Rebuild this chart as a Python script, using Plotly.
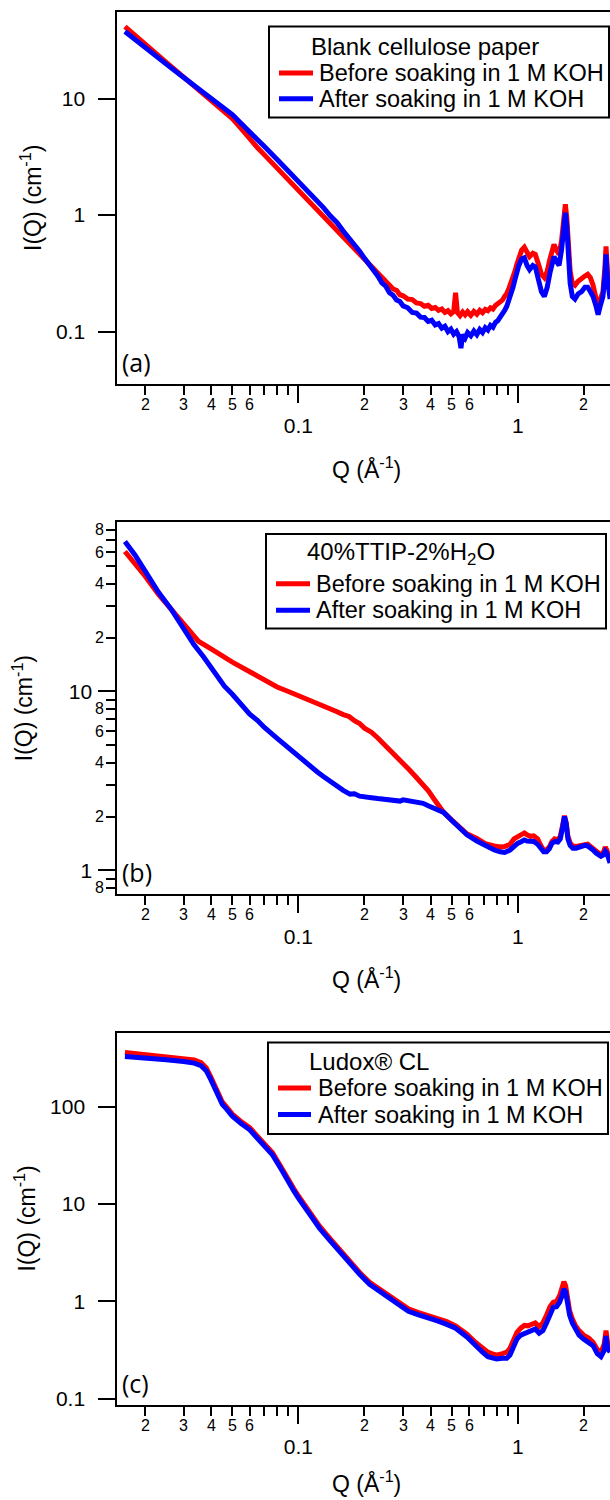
import math
import plotly.graph_objects as go

W, H = 610, 1500
FONT = "Liberation Sans, Arial, sans-serif"
LABEL_FONT = "Open Sans, sans-serif"
RED = "#ff0000"
BLUE = "#0000ff"

# ---------------- Panel (a): Blank cellulose paper ----------------
qa_before = [0.0162, 0.018, 0.02, 0.025, 0.03, 0.035, 0.04, 0.045, 0.05, 0.055, 0.06, 0.065, 0.07, 0.08,
             0.09, 0.1, 0.11, 0.12, 0.13, 0.14, 0.15, 0.16, 0.17, 0.18, 0.19,
             0.20, 0.21, 0.22, 0.23, 0.24, 0.25, 0.26, 0.27, 0.28, 0.29, 0.30, 0.315, 0.33, 0.345, 0.36,
             0.375, 0.39, 0.405, 0.42, 0.435, 0.45, 0.465, 0.48, 0.495, 0.51, 0.52, 0.53, 0.545, 0.56,
             0.575, 0.59, 0.61, 0.63, 0.65, 0.67, 0.69, 0.71, 0.73, 0.75, 0.77, 0.79, 0.81, 0.83, 0.85,
             0.87, 0.89, 0.91, 0.93, 0.95, 0.97, 0.99, 1.01, 1.04, 1.07, 1.1, 1.13, 1.17, 1.2, 1.24, 1.28,
             1.32, 1.36, 1.40, 1.43, 1.46, 1.5, 1.54, 1.58, 1.61, 1.645, 1.67, 1.7, 1.73, 1.77, 1.82, 1.88,
             1.95, 2.02, 2.08, 2.14, 2.2, 2.26, 2.32, 2.38, 2.44, 2.49, 2.52, 2.56, 2.6, 2.63]
ia_before = [41.6, 35.3, 29.4, 20.5, 15.3, 11.9, 9.8, 8.1, 6.74, 5.5, 4.46, 3.8, 3.29, 2.53,
             2.0, 1.63, 1.36, 1.14, 0.97, 0.84, 0.74, 0.645, 0.57, 0.51, 0.46,
             0.414, 0.38, 0.345, 0.318, 0.29, 0.268, 0.25, 0.232, 0.226, 0.207, 0.203, 0.19, 0.188, 0.176, 0.174,
             0.165, 0.168, 0.158, 0.161, 0.152, 0.156, 0.146, 0.151, 0.142, 0.149, 0.215, 0.146, 0.137, 0.147,
             0.139, 0.148, 0.138, 0.149, 0.141, 0.152, 0.145, 0.155, 0.151, 0.16, 0.156, 0.167, 0.172, 0.18, 0.186,
             0.2, 0.212, 0.235, 0.26, 0.29, 0.33, 0.38, 0.44, 0.5, 0.53, 0.48, 0.44, 0.47, 0.46, 0.38, 0.31,
             0.29, 0.33, 0.42, 0.5, 0.56, 0.5, 0.46, 0.6, 0.95, 1.24, 0.95, 0.5, 0.33, 0.26, 0.25, 0.27,
             0.29, 0.3, 0.31, 0.29, 0.25, 0.2, 0.16, 0.19, 0.22, 0.35, 0.54, 0.32, 0.25, 0.22]
qa_after = [0.0162, 0.018, 0.02, 0.025, 0.03, 0.035, 0.04, 0.045, 0.05, 0.055, 0.06, 0.065, 0.07, 0.08,
            0.09, 0.1, 0.11, 0.12, 0.13, 0.14, 0.15, 0.16, 0.17, 0.18, 0.19,
            0.20, 0.21, 0.22, 0.23, 0.24, 0.25, 0.26, 0.27, 0.28, 0.29, 0.30, 0.315, 0.33, 0.345, 0.36,
            0.375, 0.39, 0.405, 0.42, 0.435, 0.45, 0.465, 0.48, 0.495, 0.51, 0.525, 0.54, 0.55, 0.56,
            0.575, 0.59, 0.61, 0.63, 0.65, 0.67, 0.69, 0.71, 0.73, 0.75, 0.77, 0.79, 0.81, 0.83, 0.85,
            0.87, 0.89, 0.91, 0.93, 0.95, 0.97, 0.99, 1.01, 1.04, 1.07, 1.1, 1.13, 1.17, 1.2, 1.24, 1.28,
            1.32, 1.36, 1.40, 1.43, 1.46, 1.5, 1.54, 1.58, 1.61, 1.645, 1.67, 1.7, 1.73, 1.77, 1.82, 1.88,
            1.95, 2.02, 2.08, 2.14, 2.2, 2.26, 2.32, 2.38, 2.44, 2.49, 2.52, 2.56, 2.6, 2.63]
ia_after = [37.7, 32.0, 27.6, 19.8, 15.2, 12.2, 10.2, 8.6, 7.3, 6.1, 5.12, 4.45, 3.88, 3.0,
            2.39, 1.95, 1.64, 1.36, 1.16, 0.98, 0.86, 0.73, 0.64, 0.55, 0.49,
            0.425, 0.38, 0.332, 0.3, 0.262, 0.245, 0.215, 0.205, 0.187, 0.181, 0.166, 0.16, 0.146, 0.144, 0.133,
            0.132, 0.122, 0.125, 0.114, 0.117, 0.107, 0.111, 0.1, 0.105, 0.095, 0.1, 0.09, 0.072, 0.094,
            0.088, 0.098, 0.092, 0.101, 0.094, 0.104, 0.098, 0.108, 0.103, 0.113, 0.109, 0.12, 0.124, 0.133, 0.14,
            0.152, 0.165, 0.185, 0.21, 0.24, 0.28, 0.33, 0.37, 0.42, 0.43, 0.37, 0.34, 0.37, 0.36, 0.28, 0.22,
            0.2, 0.24, 0.32, 0.4, 0.44, 0.4, 0.37, 0.5, 0.8, 1.05, 0.8, 0.4, 0.26, 0.2, 0.19, 0.21,
            0.22, 0.24, 0.24, 0.22, 0.2, 0.17, 0.14, 0.17, 0.2, 0.3, 0.46, 0.28, 0.21, 0.19]

# ---------------- Panel (b): 40%TTIP-2%H2O ----------------
qb_before = [0.0162, 0.018, 0.02, 0.023, 0.0264, 0.03, 0.035, 0.04, 0.045, 0.05, 0.06, 0.07, 0.08, 0.09,
             0.1, 0.11, 0.12, 0.13, 0.14, 0.15, 0.16, 0.17, 0.18, 0.19, 0.2, 0.215, 0.23, 0.245, 0.26,
             0.28, 0.3, 0.32, 0.34, 0.36, 0.38, 0.39, 0.42, 0.44, 0.459, 0.5, 0.55, 0.586, 0.65, 0.71,
             0.78, 0.83, 0.87, 0.92, 0.96, 1.0, 1.04, 1.07, 1.1, 1.14, 1.18, 1.23, 1.27, 1.31, 1.35, 1.39,
             1.43, 1.47, 1.52, 1.56, 1.6, 1.63, 1.66, 1.69, 1.73, 1.78, 1.84, 1.9, 1.96, 2.02, 2.08, 2.14,
             2.2, 2.27, 2.33, 2.39, 2.45, 2.5, 2.54, 2.58, 2.63]
ib_before = [60.6, 52.0, 44.2, 35.0, 28.7, 23.8, 19.1, 17.3, 15.8, 14.6, 12.9, 11.6, 10.6, 10.0,
             9.5, 9.1, 8.63, 8.3, 7.96, 7.7, 7.43, 7.25, 6.86, 6.62, 6.24, 5.92, 5.5, 5.1, 4.75,
             4.35, 4.0, 3.65, 3.37, 3.11, 2.88, 2.79, 2.45, 2.25, 2.11, 1.91, 1.73, 1.6, 1.51, 1.41,
             1.37, 1.35, 1.36, 1.4, 1.5, 1.55, 1.6, 1.62, 1.58, 1.55, 1.56, 1.5, 1.38, 1.3, 1.3, 1.35,
             1.45, 1.5, 1.48, 1.55, 1.8, 2.02, 1.85, 1.55, 1.42, 1.37, 1.36, 1.37, 1.39, 1.41, 1.4, 1.36,
             1.32, 1.27, 1.24, 1.22, 1.26, 1.35, 1.3, 1.17, 1.12]
qb_after = [0.0162, 0.018, 0.02, 0.023, 0.0264, 0.03, 0.0334, 0.037, 0.04, 0.0429, 0.046, 0.05, 0.055,
            0.06, 0.065, 0.07, 0.08, 0.09, 0.1, 0.107, 0.115, 0.122, 0.13, 0.14, 0.1525, 0.16, 0.172,
            0.18, 0.19, 0.2, 0.215, 0.23, 0.245, 0.259, 0.275, 0.29, 0.3, 0.315, 0.33, 0.35, 0.37, 0.39,
            0.42, 0.44, 0.459, 0.5, 0.55, 0.586, 0.65, 0.71, 0.78, 0.83, 0.87, 0.92, 0.96, 1.0, 1.04,
            1.07, 1.1, 1.14, 1.18, 1.23, 1.27, 1.31, 1.35, 1.39, 1.43, 1.47, 1.52, 1.56, 1.6, 1.63, 1.66,
            1.69, 1.73, 1.78, 1.84, 1.9, 1.96, 2.02, 2.08, 2.14, 2.2, 2.27, 2.33, 2.39, 2.45, 2.5, 2.54,
            2.58, 2.63]
ib_after = [68.9, 58.0, 47.2, 36.0, 28.7, 22.5, 18.3, 15.6, 13.5, 11.9, 10.7, 9.65, 8.5,
            7.47, 6.9, 6.29, 5.47, 4.83, 4.33, 4.05, 3.76, 3.55, 3.35, 3.12, 2.91, 2.8, 2.67,
            2.68, 2.6, 2.59, 2.55, 2.52, 2.5, 2.45, 2.47, 2.44, 2.48, 2.45, 2.42, 2.4, 2.37, 2.3,
            2.22, 2.16, 2.11, 1.9, 1.72, 1.58, 1.46, 1.37, 1.3, 1.27, 1.26, 1.3, 1.37, 1.42, 1.45,
            1.48, 1.46, 1.45, 1.45, 1.4, 1.32, 1.27, 1.27, 1.32, 1.42, 1.45, 1.44, 1.5, 1.75, 2.0, 1.82,
            1.5, 1.38, 1.33, 1.33, 1.35, 1.37, 1.38, 1.37, 1.34, 1.3, 1.25, 1.22, 1.2, 1.22, 1.28, 1.25,
            1.14, 1.1]

# ---------------- Panel (c): Ludox CL ----------------
qc_before = [0.0162, 0.018, 0.02, 0.025, 0.03, 0.0335, 0.036, 0.038, 0.04, 0.0425, 0.045, 0.047, 0.05,
             0.055, 0.06, 0.065, 0.07, 0.0762, 0.083, 0.0895, 0.095, 0.1, 0.107, 0.115, 0.125, 0.14,
             0.155, 0.172, 0.19, 0.211, 0.235, 0.259, 0.285, 0.317, 0.35, 0.39, 0.43, 0.474, 0.52, 0.586,
             0.64, 0.69, 0.73, 0.76, 0.8, 0.85, 0.89, 0.92, 0.96, 0.99, 1.03, 1.07, 1.11, 1.15, 1.2, 1.25,
             1.3, 1.35, 1.4, 1.45, 1.5, 1.55, 1.59, 1.62, 1.65, 1.68, 1.72, 1.77, 1.83, 1.9, 1.99, 2.1,
             2.2, 2.3, 2.39, 2.47, 2.52, 2.56, 2.6, 2.63]
ic_before = [361, 352, 344, 326, 312, 303, 285, 252, 200, 148, 112, 100, 84,
             70, 61, 50, 42, 33.7, 24.5, 17.9, 14.5, 12.1, 9.6, 7.55, 5.9, 4.35,
             3.3, 2.51, 1.98, 1.57, 1.32, 1.14, 0.98, 0.84, 0.77, 0.72, 0.66, 0.62, 0.56, 0.46,
             0.38, 0.325, 0.3, 0.29, 0.28, 0.29, 0.3, 0.33, 0.4, 0.48, 0.53, 0.565, 0.56, 0.58, 0.6, 0.55,
             0.6, 0.72, 0.88, 0.98, 1.0, 1.15, 1.35, 1.59, 1.45, 1.0, 0.8, 0.66, 0.56, 0.5, 0.45, 0.42,
             0.38, 0.32, 0.3, 0.36, 0.5, 0.38, 0.34, 0.33]
qc_after = qc_before
ic_after = [329, 324, 320, 305, 292, 281, 265, 235, 188, 140, 106, 95, 80,
            67, 58, 47.5, 40, 32, 23.3, 17.0, 13.8, 11.5, 9.1, 7.2, 5.6, 4.15,
            3.15, 2.4, 1.9, 1.5, 1.26, 1.09, 0.94, 0.79, 0.73, 0.68, 0.63, 0.58, 0.53, 0.43,
            0.35, 0.3, 0.27, 0.26, 0.255, 0.26, 0.26, 0.28, 0.34, 0.41, 0.45, 0.47, 0.48, 0.5, 0.52, 0.47,
            0.5, 0.6, 0.74, 0.87, 0.88, 0.98, 1.15, 1.34, 1.25, 0.9, 0.72, 0.6, 0.51, 0.45, 0.41, 0.38,
            0.35, 0.29, 0.27, 0.31, 0.44, 0.33, 0.31, 0.3]

# ---------------- Text / ticks ----------------
legend_titles = ["Blank cellulose paper", "40%TTIP-2%H<sub>2</sub>O", "Ludox® CL"]
series_names = ["Before soaking in 1 M KOH", "After soaking in 1 M KOH"]
panel_tags = ["(a)", "(b)", "(c)"]
x_major = [0.1, 1]
x_major_text = ["0.1", "1"]
x_minor = [0.02, 0.03, 0.04, 0.05, 0.06, 0.07, 0.08, 0.09, 0.2, 0.3, 0.4, 0.5, 0.6, 0.7, 0.8, 0.9, 2]
x_minor_labeled = [0.02, 0.03, 0.04, 0.05, 0.06, 0.2, 0.3, 0.4, 0.5, 0.6, 2]
x_minor_text = ["2", "3", "4", "5", "6", "2", "3", "4", "5", "6", "2"]
y_major = [[0.1, 1, 10], [1, 10], [0.1, 1, 10, 100]]
y_major_text = [["0.1", "1", "10"], ["1", "10"], ["0.1", "1", "10", "100"]]
yb_minor = [0.8, 0.9, 2, 3, 4, 5, 6, 7, 8, 9, 20, 30, 40, 50, 60, 70, 80]
yb_minor_labeled = [0.8, 2, 4, 6, 8, 20, 40, 60, 80]
yb_minor_text = ["8", "2", "4", "6", "8", "2", "4", "6", "8"]

# ---------------- Layout geometry (pixels) ----------------
PLOT_LEFT = 117.3
panel_px = [(12.3, 385.0), (524.0, 897.3), (1036.0, 1409.3)]
y_ranges = [(-1.448, 1.742), (-0.1337, 1.946), (-1.0615, 2.763)]
x_range = (-1.8252, 0.4196)
# legend box: left, right, top, bottom; rows: title y, red y, blue y; title x, sample x0, x1, text x
legend_box = [(269, 609, 26.7, 118.0), (266, 606, 535.7, 630.7), (268, 608, 1046.0, 1137.7)]
legend_rows = [(46.7, 73.3, 99.0), (555.0, 585.7, 612.3), (1065.0, 1091.7, 1118.3)]
legend_cols = [(309, 279, 313, 317), (305, 276, 310, 314), (307, 278, 311, 316)]
ytitle_x = [31, 23, 25]
xtitle_y = [470, 981.7, 1486.7]
ylabel_standoff = [9, 2, 9]


def px(p):
    return p / W


def py(p):
    return 1 - p / H


data = [(qa_before, ia_before, qa_after, ia_after),
        (qb_before, ib_before, qb_after, ib_after),
        (qc_before, ic_before, qc_after, ic_after)]

fig = go.Figure()
annotations = []
shapes = []
layout = dict(width=W, height=H, margin=dict(l=0, r=0, t=0, b=0),
              paper_bgcolor="white", plot_bgcolor="white", showlegend=False)

for i in range(3):
    sfx = "" if i == 0 else str(i + 1)
    xname, yname = "x" + sfx, "y" + sfx
    top, bot = panel_px[i]
    qb_, ib_, qa_, ia_ = data[i]
    fig.add_trace(go.Scatter(x=qb_, y=ib_, mode="lines", name=series_names[0],
                             line=dict(color=RED, width=5), xaxis=xname, yaxis=yname))
    fig.add_trace(go.Scatter(x=qa_, y=ia_, mode="lines", name=series_names[1],
                             line=dict(color=BLUE, width=5), xaxis=xname, yaxis=yname))

    xa = dict(type="log", domain=[px(PLOT_LEFT), 1.0], range=list(x_range), anchor=yname,
              showline=True, linewidth=2, linecolor="black", mirror=True,
              ticks="outside", ticklen=17, tickwidth=2, tickcolor="black",
              tickmode="array", tickvals=x_major, ticktext=x_major_text,
              tickfont=dict(family=FONT, size=21, color="black"),
              minor=dict(tickmode="array", tickvals=x_minor, ticks="outside", ticklen=9,
                         tickwidth=2, tickcolor="black", showgrid=False),
              showgrid=False, zeroline=False, ticklabelstandoff=5)
    ya = dict(type="log", domain=[py(bot), py(top)], range=list(y_ranges[i]), anchor=xname,
              showline=True, linewidth=2, linecolor="black", mirror=False,
              ticks="outside", ticklen=17, tickwidth=2, tickcolor="black",
              tickmode="array", tickvals=y_major[i], ticktext=y_major_text[i],
              tickfont=dict(family=FONT, size=21, color="black"),
              showgrid=False, zeroline=False, ticklabelstandoff=ylabel_standoff[i])
    if i == 1:
        ya["minor"] = dict(tickmode="array", tickvals=yb_minor, ticks="outside", ticklen=9,
                           tickwidth=2, tickcolor="black", showgrid=False)
        for v, t in zip(yb_minor_labeled, yb_minor_text):
            annotations.append(dict(text=t, x=px(106), xref="paper", xanchor="right",
                                    y=math.log10(v), yref=yname, yanchor="middle", showarrow=False,
                                    font=dict(family=FONT, size=16, color="black")))
    layout["xaxis" + sfx] = xa
    layout["yaxis" + sfx] = ya

    for v, t in zip(x_minor_labeled, x_minor_text):
        annotations.append(dict(text=t, x=math.log10(v), xref=xname, y=py(bot + 20.5), yref="paper",
                                xanchor="center", yanchor="middle", showarrow=False,
                                font=dict(family=FONT, size=16, color="black")))
    # axis titles
    annotations.append(dict(text="Q (Å<sup>-1</sup>)", x=px(366), y=py(xtitle_y[i]), xref="paper",
                            yref="paper", xanchor="center", yanchor="middle", showarrow=False,
                            font=dict(family=FONT, size=23, color="black")))
    annotations.append(dict(text="I(Q) (cm<sup>-1</sup>)", x=px(ytitle_x[i]), y=py((top + bot) / 2),
                            xref="paper", yref="paper", xanchor="center", yanchor="middle",
                            textangle=-90, showarrow=False,
                            font=dict(family=FONT, size=23, color="black")))
    # panel tag
    annotations.append(dict(text=panel_tags[i], x=px(120), y=py(bot - 22), xref="paper", yref="paper",
                            xanchor="left", yanchor="middle", showarrow=False,
                            font=dict(family=LABEL_FONT, size=25, color="black")))

    # legend box (drawn on top of the curves)
    lx0, lx1, ly0, ly1 = legend_box[i]
    ty, ry, by = legend_rows[i]
    tx, sx0, sx1, txx = legend_cols[i]
    shapes.append(dict(type="rect", xref="paper", yref="paper", x0=px(lx0), x1=px(lx1),
                       y0=py(ly1), y1=py(ly0), line=dict(color="black", width=2),
                       fillcolor="white", layer="above"))
    for yy, col in ((ry, RED), (by, BLUE)):
        shapes.append(dict(type="line", xref="paper", yref="paper", x0=px(sx0), x1=px(sx1),
                           y0=py(yy), y1=py(yy), line=dict(color=col, width=5), layer="above"))
    annotations.append(dict(text=legend_titles[i], x=px(tx), y=py(ty), xref="paper", yref="paper",
                            xanchor="left", yanchor="middle", showarrow=False,
                            font=dict(family=FONT, size=24, color="black")))
    for yy, name in ((ry, series_names[0]), (by, series_names[1])):
        annotations.append(dict(text=name, x=px(txx), y=py(yy), xref="paper", yref="paper",
                                xanchor="left", yanchor="middle", showarrow=False,
                                font=dict(family=FONT, size=23.5, color="black")))

layout["annotations"] = annotations
layout["shapes"] = shapes
fig.update_layout(**layout)
fig.write_html("out.html")
